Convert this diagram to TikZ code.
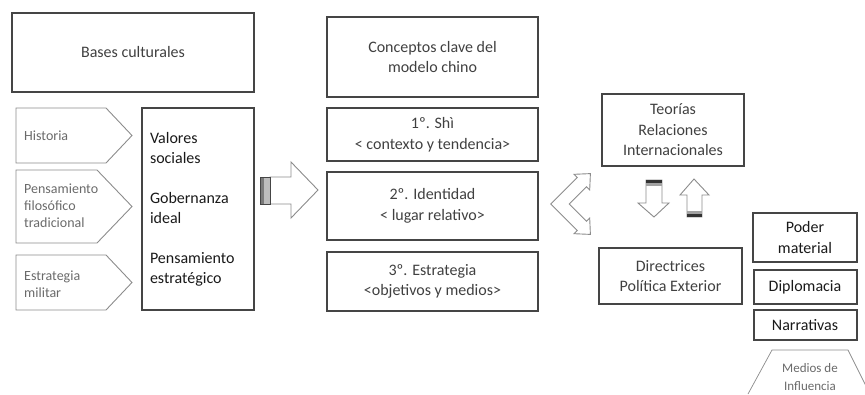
\documentclass[tikz,border=0pt]{standalone}
\usepackage{fontspec}
\setmainfont{Carlito}
\usetikzlibrary{positioning}
\definecolor{boxline}{HTML}{454545}
\definecolor{boxtext}{HTML}{404040}
\definecolor{softline}{HTML}{8C8C8C}
\definecolor{softtext}{HTML}{6A6A6A}
\definecolor{stripe}{HTML}{7A7A7A}

\begin{document}
\begin{tikzpicture}[x=1pt,y=-1pt,
		box/.style={draw=boxline,line width=1.3pt,align=center,text=boxtext,inner sep=0pt,
			font=\fontsize{16}{20.5}\selectfont},
		heavybox/.style={box,line width=2pt,text=black!90},
		pent/.style={draw=softline,line width=0.9pt},
		penttext/.style={anchor=west,align=left,text=softtext,inner sep=0pt,
			font=\fontsize{14}{17}\selectfont},
		blockarrow/.style={draw=softline,line width=0.9pt,fill=white,line join=miter}]
		
		\useasboundingbox (0,0) rectangle (865,394);
		
		% bases culturales
		\node[box, minimum width=242pt, minimum height=79pt] (bases) at (133,52.5) {Bases culturales};
		
		\draw[pent] (16,108) -- (106,108) -- (132,135.5) -- (106,163) -- (16,163) -- cycle;
		\node[penttext] (historia) at (24,136) {Historia};
		\draw[pent] (16,170) -- (97,170) -- (132,206.5) -- (97,243) -- (16,243) -- cycle;
		\node[penttext] (filosofia) at (24,206) {Pensamiento\\filosófico\\tradicional};
		\draw[pent] (16,255) -- (106,255) -- (132,282.5) -- (106,310) -- (16,310) -- cycle;
		\node[penttext] (militar) at (24,284) {Estrategia\\militar};
		
		\node[box, minimum width=112pt, minimum height=202pt, text width=96pt, align=left,
			text=black!90, font=\fontsize{16}{20}\selectfont] (valores) at (198,209)
			{Valores\\sociales\\[20pt]Gobernanza\\ideal\\[20pt]Pensamiento\\estratégico};
		
		% flecha hacia los conceptos
		\draw[blockarrow] (270,177) -- (291,177) -- (291,162) -- (318,190) -- (291,218)
			-- (291,204) -- (270,204) -- cycle;
		\fill[stripe] (260,177) rectangle (264,204);
		\fill[stripe!50] (264,177) rectangle (270,204);
		\draw[boxline,line width=0.8pt] (260,177) rectangle (270,204);
		
		% conceptos clave
		\node[box, minimum width=211pt, minimum height=80pt] (conceptos) at (432.5,57) {Conceptos clave del\\modelo chino};
		\node[box, minimum width=211pt, minimum height=53pt] (shi) at (432.5,134.5) {1º. Shì\\< contexto y tendencia>};
		\node[box, minimum width=211pt, minimum height=68pt] (identidad) at (432.5,206) {2º. Identidad\\< lugar relativo>};
		\node[box, minimum width=211pt, minimum height=59pt] (estrategia) at (432.5,281.5) {3º. Estrategia\\<objetivos y medios>};
		
		% flecha doble
		\draw[blockarrow] (550.8,204) -- (577.3,177.5) -- (574.1,174.3) -- (590.4,173.6) -- (589.7,189.9)
			-- (586.5,186.7) -- (569.2,204) -- (586.5,221.3) -- (589.7,218.1) -- (590.4,234.4)
			-- (574.1,233.7) -- (577.3,230.5) -- cycle;
		
		% teorias y directrices
		\node[box, minimum width=142pt, minimum height=72pt] (teorias) at (673,130) {Teorías\\Relaciones\\Internacionales};
		\node[box, minimum width=143pt, minimum height=56pt] (directrices) at (670.5,276) {Directrices\\Política Exterior};
		
		\draw[blockarrow] (646,180) -- (662,180) -- (662,203) -- (669,203) -- (654,217) -- (638,203)
			-- (646,203) -- cycle;
		\fill[black!80] (646,180) rectangle (662,183);
		\fill[stripe!70] (646,183) rectangle (662,186);
		\draw[blockarrow] (687,217) -- (687,195) -- (680,195) -- (694,179) -- (709,195) -- (702,195)
			-- (702,217) -- cycle;
		\fill[stripe!70] (687,211) rectangle (702,214);
		\fill[black!80] (687,214) rectangle (702,217);
		
		% medios de influencia
		\node[heavybox, minimum width=104pt, minimum height=49pt] (poder) at (805,237.5) {Poder\\material};
		\node[heavybox, minimum width=103pt, minimum height=34pt] (diplomacia) at (805,287) {Diplomacia};
		\node[heavybox, minimum width=103pt, minimum height=30pt] (narrativas) at (805,325) {Narrativas};
		
		\draw[softline,line width=0.7pt] (748,394) -- (772,350) -- (848,350) -- (870,394);
		\node[align=center,text=softtext,inner sep=0pt,font=\fontsize{13}{18}\selectfont] (medios) at (810,377) {Medios de\\Influencia};
\end{tikzpicture}
\end{document}
